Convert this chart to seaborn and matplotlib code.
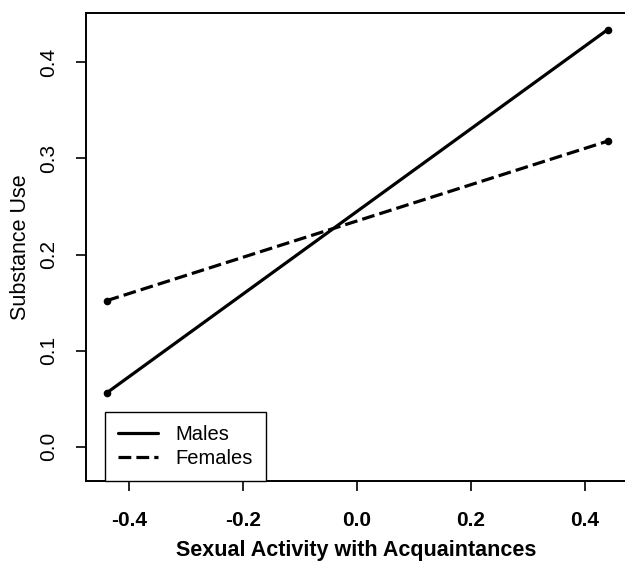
import pandas as pd
import seaborn as sns
import matplotlib.pyplot as plt
from matplotlib.lines import Line2D

# Values
groups = ["Males", "Females"]
x_vals = [-0.44, 0.44]
males = [0.056, 0.434]
females = [0.152, 0.318]
x_ticks = [-0.4, -0.2, 0.0, 0.2, 0.4]
y_ticks = [0.0, 0.1, 0.2, 0.3, 0.4]

df = pd.DataFrame({
    "x": x_vals * 2,
    "y": males + females,
    "group": [groups[0]] * 2 + [groups[1]] * 2,
})

sns.set_style("ticks")
plt.rcParams["font.family"] = ["Liberation Sans", "DejaVu Sans"]
plt.rcParams["text.color"] = "black"
plt.rcParams["axes.labelcolor"] = "black"
plt.rcParams["xtick.color"] = "black"
plt.rcParams["ytick.color"] = "black"

fig = plt.figure(figsize=(6.25, 5.63), dpi=100)
ax = fig.add_axes([0.1371, 0.1456, 0.8672, 0.8318])

dash_styles = {"Males": "", "Females": (4, 1.6)}
sns.lineplot(data=df, x="x", y="y", style="group", dashes=dash_styles,
             markers={"Males": "o", "Females": "o"}, markersize=5.5,
             markeredgewidth=0, color="black", linewidth=2.3, ax=ax,
             legend=False)

ax.set_xlim(-0.4767, 0.4752)
ax.set_ylim(-0.0356, 0.4516)
ax.set_xticks(x_ticks)
ax.set_xticklabels([f"{t:.1f}" for t in x_ticks], fontsize=15, fontweight="bold")
ax.set_yticks(y_ticks)
ax.set_yticklabels([f"{t:.1f}" for t in y_ticks], fontsize=15, rotation=90, va="center")
ax.tick_params(axis="both", direction="out", length=7.5, width=1.2, color="black")
ax.tick_params(axis="x", pad=14)
ax.tick_params(axis="y", pad=12)

for s in ax.spines.values():
    s.set_visible(True)
    s.set_linewidth(1.4)
    s.set_color("black")

ax.set_xlabel("Sexual Activity with Acquaintances", fontsize=15.5, fontweight="bold", labelpad=7)
ax.set_ylabel("Substance Use", fontsize=15.5, labelpad=6)

handles = [
    Line2D([0], [0], color="black", lw=2.3, linestyle="-"),
    Line2D([0], [0], color="black", lw=2.3, linestyle=(0, (4, 1.6))),
]
leg = ax.legend(handles, groups, loc="lower left", bbox_to_anchor=(0.0356, 0.0),
                borderaxespad=0, fancybox=False, framealpha=1, edgecolor="black",
                fontsize=14.5, handlelength=2.0, handletextpad=0.85,
                borderpad=0.65, labelspacing=0.25)
leg.get_frame().set_linewidth(1.0)

fig.savefig("out.png", dpi=100)
